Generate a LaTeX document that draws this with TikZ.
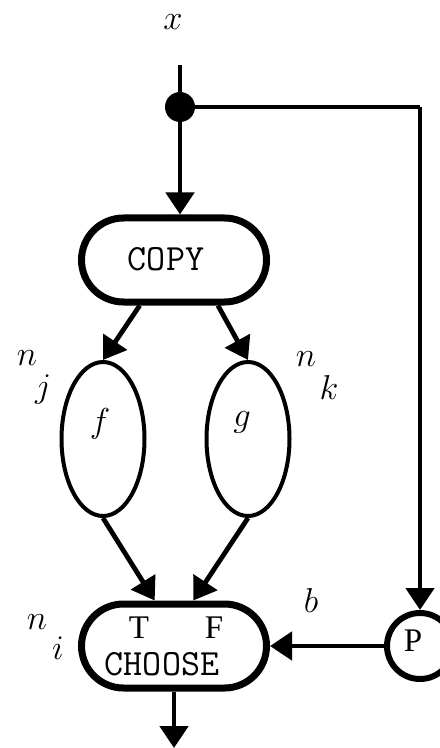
\documentclass[tikz,border=0pt]{standalone}
\usepackage{fontspec}
\setmainfont{Liberation Serif}
\usetikzlibrary{arrows.meta,shapes.misc,shapes.geometric}

\begin{document}
\begin{tikzpicture}[x=0.5pt,y=-0.5pt,
	flow/.style={line width=2.4pt,-{Triangle[length=11pt,width=14pt]}},
	wire/.style={line width=2.2pt},
	procbox/.style={draw,rounded rectangle,line width=3.5pt,minimum width=92.5pt,minimum height=42pt,inner sep=0pt},
	funcnode/.style={draw,ellipse,line width=2pt,minimum width=41.5pt,minimum height=77pt,inner sep=0pt},
	testnode/.style={draw,circle,line width=3pt,minimum size=33pt,inner sep=0pt},
	lbl/.style={inner sep=0pt,font=\fontsize{17}{20}\selectfont},
	rmtxt/.style={inner sep=0pt,font=\fontsize{16.5}{20}\selectfont},
	mono/.style={inner sep=0pt,font=\fontsize{18.5}{21}\selectfont\ttfamily}]
	\useasboundingbox (0,0) rectangle (439,748);
	
	\coordinate (in) at (180,65);
	\coordinate (turn) at (420,107);
	\coordinate (out) at (174,748);
	
	\node[fill,circle,inner sep=0pt,minimum size=15pt] (split) at (180,107) {};
	\node[procbox] (copy) at (174,260) {};
	\node[funcnode] (f) at (103,439) {};
	\node[funcnode] (g) at (248,439) {};
	\node[procbox] (choose) at (174,646) {};
	\node[testnode] (P) at (420,646) {};
	
	\draw[wire] (in) -- (split);
	\draw[flow] (split) -- (split |- copy.north);
	\draw[wire] (split) -- (turn);
	\draw[flow] (turn) -- (P.north);
	\draw[flow] (copy.233) -- (f.north);
	\draw[flow] (copy.314) -- (g.north);
	\draw[flow] (f.south) -- (choose.113);
	\draw[flow] (g.south) -- (choose.67);
	\draw[flow] (P.west) -- (choose.east);
	\draw[flow] (choose.south) -- (out);
	
	\node[lbl] (xlbl) at (173,22) {$x$};
	\node[mono] (copytxt) at (166,259) {COPY};
	\node[lbl] (ftxt) at (100,424) {$f$};
	\node[lbl] (gtxt) at (242,422) {$g$};
	\node[lbl] (nj) at (27,358) {$n$};
	\node[lbl] (jj) at (43,390) {$j$};
	\node[lbl] (nk) at (306,359) {$n$};
	\node[lbl] (kk) at (329,387) {$k$};
	\node[lbl] (ni) at (37,622) {$n$};
	\node[lbl] (ii) at (58,648) {$i$};
	\node[lbl] (blbl) at (311,600) {$b$};
	\node[rmtxt] (ttxt) at (139,628) {T};
	\node[rmtxt] (ftxt2) at (214,628) {F};
	\node[mono] (choosetxt) at (162,664) {CHOOSE};
	\node[rmtxt] (ptxt) at (413,641) {P};
\end{tikzpicture}
\end{document}
